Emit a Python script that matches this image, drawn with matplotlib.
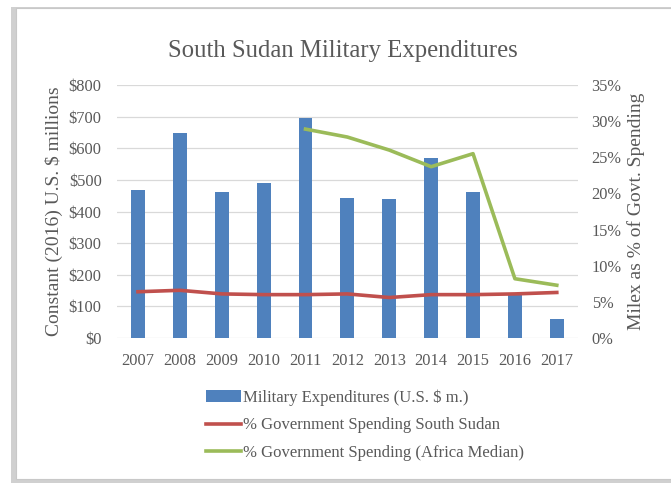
import matplotlib.pyplot as plt
from matplotlib.patches import Rectangle
from matplotlib.ticker import FuncFormatter

years = ["2007", "2008", "2009", "2010", "2011", "2012", "2013", "2014", "2015", "2016", "2017"]
milex = [468, 649, 462, 489, 697, 444, 441, 568, 462, 135, 59]
pct_south_sudan = [6.4, 6.6, 6.1, 6.0, 6.0, 6.1, 5.6, 6.0, 6.0, 6.1, 6.3]
africa_years = ["2011", "2012", "2013", "2014", "2015", "2016", "2017"]
pct_africa = [28.9, 27.8, 26.0, 23.7, 25.5, 8.2, 7.3]

plt.rcParams['font.family'] = ['Liberation Serif', 'DejaVu Serif']
text_col = "#595959"

fig = plt.figure(figsize=(6.71, 4.83), dpi=100)

# frame with a soft shadow on left/bottom
fig.patches.append(Rectangle((0.016, 0.0), 1.0, 0.985, transform=fig.transFigure,
                             facecolor="#d0d0d0", edgecolor="none", zorder=-10))
fig.patches.append(Rectangle((0.024, 0.008), 1.0, 0.975, transform=fig.transFigure,
                             facecolor="white", edgecolor="#c8c8c8", lw=0.8, zorder=-9))

ax = fig.add_axes([0.1744, 0.3002, 0.6866, 0.5238])
ax.set_facecolor("none")
x = list(range(len(years)))
bars = ax.bar(x, milex, width=0.33, color="#4F81BD", zorder=2,
              label="Military Expenditures (U.S. $ m.)")
ax.set_xlim(-0.5, len(years) - 0.5)
ax.set_ylim(0, 800)
ax.set_yticks(range(0, 801, 100))
ax.yaxis.set_major_formatter(FuncFormatter(lambda v, p: "$%d" % v))
ax.set_xticks(x)
ax.set_xticklabels(years)
ax.grid(axis="y", color="#d9d9d9", lw=0.9, zorder=0)
for s in ax.spines.values():
    s.set_visible(False)
ax.tick_params(length=0, labelsize=11.8, colors=text_col, pad=11)
ax.tick_params(axis="x", pad=11)
ax.set_ylabel("Constant (2016) U.S. $ millions", fontsize=14, color=text_col, labelpad=4)

ax2 = ax.twinx()
ax2.set_ylim(0, 35)
ax2.set_yticks(range(0, 36, 5))
ax2.yaxis.set_major_formatter(FuncFormatter(lambda v, p: "%d%%" % v))
for s in ax2.spines.values():
    s.set_visible(False)
ax2.tick_params(length=0, labelsize=11.8, colors=text_col, pad=10)
ax2.set_ylabel("Milex as % of Govt. Spending", fontsize=14, color=text_col, labelpad=4)

l1, = ax2.plot(x, pct_south_sudan, color="#C0504D", lw=2.6, zorder=3,
               label="% Government Spending South Sudan")
ax_idx = [years.index(y) for y in africa_years]
l2, = ax2.plot(ax_idx, pct_africa, color="#9BBB59", lw=2.6, zorder=3,
               label="% Government Spending (Africa Median)")

fig.text(0.511, 0.894, "South Sudan Military Expenditures", ha="center", va="center",
         fontsize=17.8, color=text_col)

fig.legend([bars, l1, l2], [bars.get_label(), l1.get_label(), l2.get_label()],
           loc="upper left", bbox_to_anchor=(0.297, 0.208), frameon=False,
           fontsize=12, labelcolor=text_col, handlelength=2.1, handletextpad=0.15,
           labelspacing=0.7, borderaxespad=0)

fig.savefig("out.png", dpi=100)
